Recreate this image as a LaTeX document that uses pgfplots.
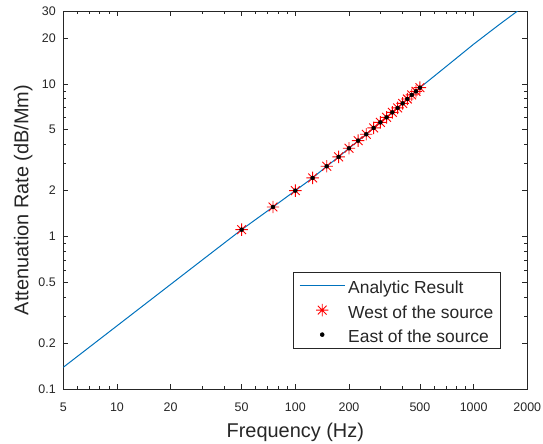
\documentclass[border=0pt]{standalone}
\usepackage{fontspec}
\setmainfont{Liberation Sans}
\usepackage{pgfplots}
\pgfplotsset{compat=1.18}
\definecolor{mblue}{rgb}{0,0.447,0.741}
\definecolor{axgray}{rgb}{0.15,0.15,0.15}
\pgfdeclareplotmark{mstar}{%
  \pgfpathmoveto{\pgfqpoint{-\pgfplotmarksize}{0pt}}\pgfpathlineto{\pgfqpoint{\pgfplotmarksize}{0pt}}%
  \pgfpathmoveto{\pgfqpoint{0pt}{-\pgfplotmarksize}}\pgfpathlineto{\pgfqpoint{0pt}{\pgfplotmarksize}}%
  \pgfpathmoveto{\pgfqpoint{-.7071\pgfplotmarksize}{-.7071\pgfplotmarksize}}\pgfpathlineto{\pgfqpoint{.7071\pgfplotmarksize}{.7071\pgfplotmarksize}}%
  \pgfpathmoveto{\pgfqpoint{-.7071\pgfplotmarksize}{.7071\pgfplotmarksize}}\pgfpathlineto{\pgfqpoint{.7071\pgfplotmarksize}{-.7071\pgfplotmarksize}}%
  \pgfusepathqstroke}
\pgfplotsset{
  mylinelegend/.style={legend image code/.code={\draw[##1] (0bp,0bp) -- (45bp,0bp);}},
  mymarklegend/.style={legend image code/.code={\draw[mark repeat=2, mark phase=2, ##1] plot coordinates {(0bp,0bp) (22.5bp,0bp) (45bp,0bp)};}},
}
\pgfplotstableread{
f    west  east
50   1.106 1.106
75   1.558 1.558
100  1.994 1.994
125  2.415 2.415
150  2.88  2.88
175  3.32  3.32
200  3.78  3.78
225  4.24  4.24
250  4.67  4.67
275  5.14  5.14
300  5.59  5.59
325  6.03  6.03
350  6.50  6.50
375  6.95  6.95
400  7.45  7.45
425  7.96  7.96
450  8.46  8.46
475  8.93  8.93
500  9.44  9.44
}\obsdata
\begin{document}
\begin{tikzpicture}
\path[use as bounding box] (-63.3bp,-55bp) rectangle (479.7bp,388.8bp);
\begin{axis}[
  at={(0,0)}, anchor=south west,
  scale only axis, width=464bp, height=377.7bp,
  xmode=log, ymode=log,
  xmin=5, xmax=2000, ymin=0.1, ymax=30,
  xtick={5,10,20,50,100,200,500,1000,2000},
  xticklabels={5,10,20,50,100,200,500,1000,2000},
  minor xtick={6,7,8,9,30,40,60,70,80,90,300,400,600,700,800,900},
  ytick={0.1,0.2,0.5,1,2,5,10,20,30},
  yticklabels={0.1,0.2,0.5,1,2,5,10,20,30},
  minor ytick={0.3,0.4,0.6,0.7,0.8,0.9,3,4,6,7,8,9},
  tick align=inside,
  major tick length=5bp, minor tick length=3bp,
  axis line style={axgray, line width=0.6bp},
  every tick/.style={axgray, line width=0.6bp},
  tick label style={font=\fontsize{12.5}{14}\selectfont, text=axgray},
  xticklabel style={yshift=-10.8bp},
  yticklabel style={xshift=-4bp},
  xlabel={Frequency (Hz)},
  ylabel={Attenuation Rate (dB/Mm)},
  label style={font=\fontsize{20}{24}\selectfont, text=axgray},
  xlabel style={at={(axis description cs:0.5,-0.1297)}, anchor=base},
  ylabel style={at={(axis description cs:-0.0754,0.5)}, anchor=base},
  legend style={at={(axis description cs:0.9412,0.1077)}, anchor=south east,
    draw=axgray, fill=white, line width=0.5bp,
    font=\fontsize{17.5}{20}\selectfont, text=axgray,
    inner xsep=5.5bp, inner ysep=1bp, row sep=0pt,
    /tikz/every odd column/.append style={column sep=2bp},
    nodes={inner xsep=1bp, inner ysep=4bp, text height=16.3bp, text depth=0.2bp}},
  legend cell align=left,
]
\addplot[mblue, line width=1bp, no marks, mylinelegend]
  coordinates {(5,0.1384)(10,0.2588)(20,0.484)(30,0.698)(50,1.106)(75,1.558)(100,1.994)(125,2.415)(150,2.88)(175,3.32)(200,3.78)(250,4.67)(300,5.59)(350,6.50)(400,7.45)(450,8.46)(500,9.44)(700,12.97)(1000,18.2)(1400,24.6)(2000,33.5)};
\addlegendentry{Analytic Result}
\addplot[only marks, red, mark=mstar, mark size=6.2bp, line width=0.9bp, mymarklegend]
  table[x=f, y=west] {\obsdata};
\addlegendentry{West of the source}
\addplot[only marks, black, mark=*, mark size=2bp, mymarklegend]
  table[x=f, y=east] {\obsdata};
\addlegendentry{East of the source}
\end{axis}
\end{tikzpicture}
\end{document}
